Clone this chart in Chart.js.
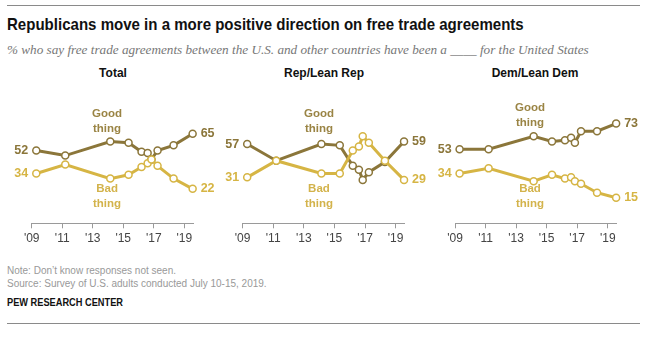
<!DOCTYPE html>
<html>
<head>
<meta charset="utf-8">
<script src="https://cdn.jsdelivr.net/npm/chart.js@4.4.1/dist/chart.umd.min.js"></script>
<style>
  html, body { margin: 0; padding: 0; background: #fff; }
  body { width: 664px; height: 337px; position: relative; overflow: hidden; font-family: "Liberation Sans", Arial, sans-serif; }
  .rule { position: absolute; left: 7px; width: 633px; height: 0; border-top: 1.5px solid #8a8a8a; }
  .txt { position: absolute; white-space: nowrap; }
  #title { left: 7px; top: 15px; line-height: 22px; font: bold 17px "Liberation Sans", Arial, sans-serif; color: #111;
           transform: scaleX(0.885); transform-origin: left center; }
  #subtitle { left: 7px; top: 42px; line-height: 16px; font: italic 13.2px "Liberation Serif", "DejaVu Serif", serif; color: #777; }
  .ptitle { top: 66px; line-height: 16px; font: bold 12px "Liberation Sans", Arial, sans-serif; color: #111; transform: translateX(-50%); }
  .foot { left: 7px; font-size: 10px; line-height: 12px; color: #999; }
  #pew { left: 7px; top: 296px; font: bold 11px "Liberation Sans", Arial, sans-serif; color: #111;
         transform: scaleX(0.84); transform-origin: left center; }
  canvas { position: absolute; }
</style>
</head>
<body>
<div class="rule" style="top:5px"></div>
<div class="txt" id="title">Republicans move in a more positive direction on free trade agreements</div>
<div class="txt" id="subtitle">% who say free trade agreements between the U.S. and other countries have been a ____ for the United States</div>

<div class="txt ptitle" style="left:113px">Total</div>
<div class="txt ptitle" style="left:324px">Rep/Lean Rep</div>
<div class="txt ptitle" style="left:535px">Dem/Lean Dem</div>

<div style="position:absolute;left:0;top:85px;width:215px;height:170px"><canvas id="c0"></canvas></div>
<div style="position:absolute;left:215px;top:85px;width:215px;height:170px"><canvas id="c1"></canvas></div>
<div style="position:absolute;left:430px;top:85px;width:234px;height:170px"><canvas id="c2"></canvas></div>

<div class="txt foot" style="top:265px">Note: Don’t know responses not seen.</div>
<div class="txt foot" style="top:278px">Source: Survey of U.S. adults conducted July 10-15, 2019.</div>
<div class="txt" id="pew">PEW RESEARCH CENTER</div>
<div class="rule" style="top:323px"></div>

<script>
// survey dates (decimal years) shared by all three panels
const surveyDates = [2009.3, 2011.2, 2014.15, 2015.35, 2016.2, 2016.6, 2016.85, 2017.25, 2018.3, 2019.55];
const tickYears = [2009, 2011, 2013, 2015, 2017, 2019];

const totalGood = [52, 48, 59, 58, 51, 50, 45, 52, 56, 65];
const totalBad  = [34, 41, 30, 33, 39, 42, 45, 40, 30, 22];

const repGood = [57, 44, 57, 56, 40, 37, 29, 35, 43, 59];
const repBad  = [31, 44, 34, 34, 52, 55, 63, 58, 44, 29];

const demGood = [53, 53, 63, 59, 60, 62, 58, 67, 67, 73];
const demBad  = [34, 38, 28, 33, 30, 31, 28, 26, 19, 15];

const GOOD_COLOR = '#8b763a';
const BAD_COLOR = '#d6b544';

// writes first/last values next to the ends of each line, plus the series names
const seriesLabels = {
    id: 'seriesLabels',
    afterDatasetsDraw(chart, args, opts) {
        const ctx = chart.ctx;
        const xs = chart.scales.x, ys = chart.scales.y;
        ctx.save();
        ctx.textBaseline = 'middle';
        chart.data.datasets.forEach((ds, i) => {
            const pts = chart.getDatasetMeta(i).data;
            const first = pts[0], last = pts[pts.length - 1];
            ctx.fillStyle = ds.borderColor;
            ctx.font = 'bold 12.5px "Liberation Sans", Arial, sans-serif';
            ctx.textAlign = 'right';
            ctx.fillText(ds.data[0].y, first.x - 8, first.y);
            ctx.textAlign = 'left';
            ctx.fillText(ds.data[ds.data.length - 1].y, last.x + 8, last.y);
        });
        ctx.textAlign = 'center';
        ctx.font = 'bold 11.5px "Liberation Sans", Arial, sans-serif';
        opts.names.forEach(n => {
            const cx = xs.getPixelForValue(n.year);
            const cy = ys.getPixelForValue(n.value);
            ctx.fillStyle = n.color;
            ctx.fillText(n.lines[0], cx, cy - 7.5);
            ctx.fillText(n.lines[1], cx, cy + 7.5);
        });
        ctx.restore();
    }
};

function series(label, values, color) {
    return {
        label: label,
        data: values.map((v, i) => ({ x: surveyDates[i], y: v })),
        borderColor: color,
        backgroundColor: color,
        borderWidth: 3,
        pointRadius: 3.5,
        pointBorderWidth: 1.5,
        pointBackgroundColor: '#fff',
        pointBorderColor: color,
        tension: 0,
        clip: false
    };
}

function makePanel(id, good, bad, padLeft, padRight, nameYear, goodNameValue) {
    return new Chart(document.getElementById(id), {
        type: 'line',
        data: {
            datasets: [
                series('Bad thing', bad, BAD_COLOR),
                series('Good thing', good, GOOD_COLOR)
            ]
        },
        options: {
            responsive: true,
            maintainAspectRatio: false,
            animation: false,
            events: [],
            layout: { padding: { left: padLeft, right: padRight, top: 29.6, bottom: 0 } },
            plugins: {
                legend: { display: false },
                tooltip: { enabled: false },
                seriesLabels: {
                    names: [
                        { lines: ['Good', 'thing'], year: nameYear, value: goodNameValue, color: '#9a8444' },
                        { lines: ['Bad', 'thing'], year: nameYear, value: 16.3, color: '#d3b34b' }
                    ]
                }
            },
            scales: {
                x: {
                    type: 'linear',
                    min: 2009,
                    max: 2019.6,
                    afterBuildTicks: scale => { scale.ticks = tickYears.map(v => ({ value: v })); },
                    afterFit: scale => { scale.height = 31.7; },
                    border: { display: true, color: '#9a9a9a', width: 1 },
                    grid: { drawOnChartArea: false, drawTicks: true, tickLength: 5, color: '#9a9a9a' },
                    ticks: {
                        padding: 3,
                        maxRotation: 0,
                        autoSkip: false,
                        color: '#444',
                        font: { family: '"Liberation Sans", Arial, sans-serif', size: 12 },
                        callback: v => "'" + String(v).slice(2)
                    }
                },
                y: {
                    display: false,
                    min: -4.9,
                    max: 80
                }
            }
        },
        plugins: [seriesLabels]
    });
}

makePanel('c0', totalGood, totalBad, 31.7, 21.6, 2013.94, 74.4);
makePanel('c1', repGood, repBad, 27.6, 25.2, 2013.99, 74.4);
makePanel('c2', demGood, demBad, 25, 47.1, 2013.91, 79.3);
</script>
</body>
</html>
